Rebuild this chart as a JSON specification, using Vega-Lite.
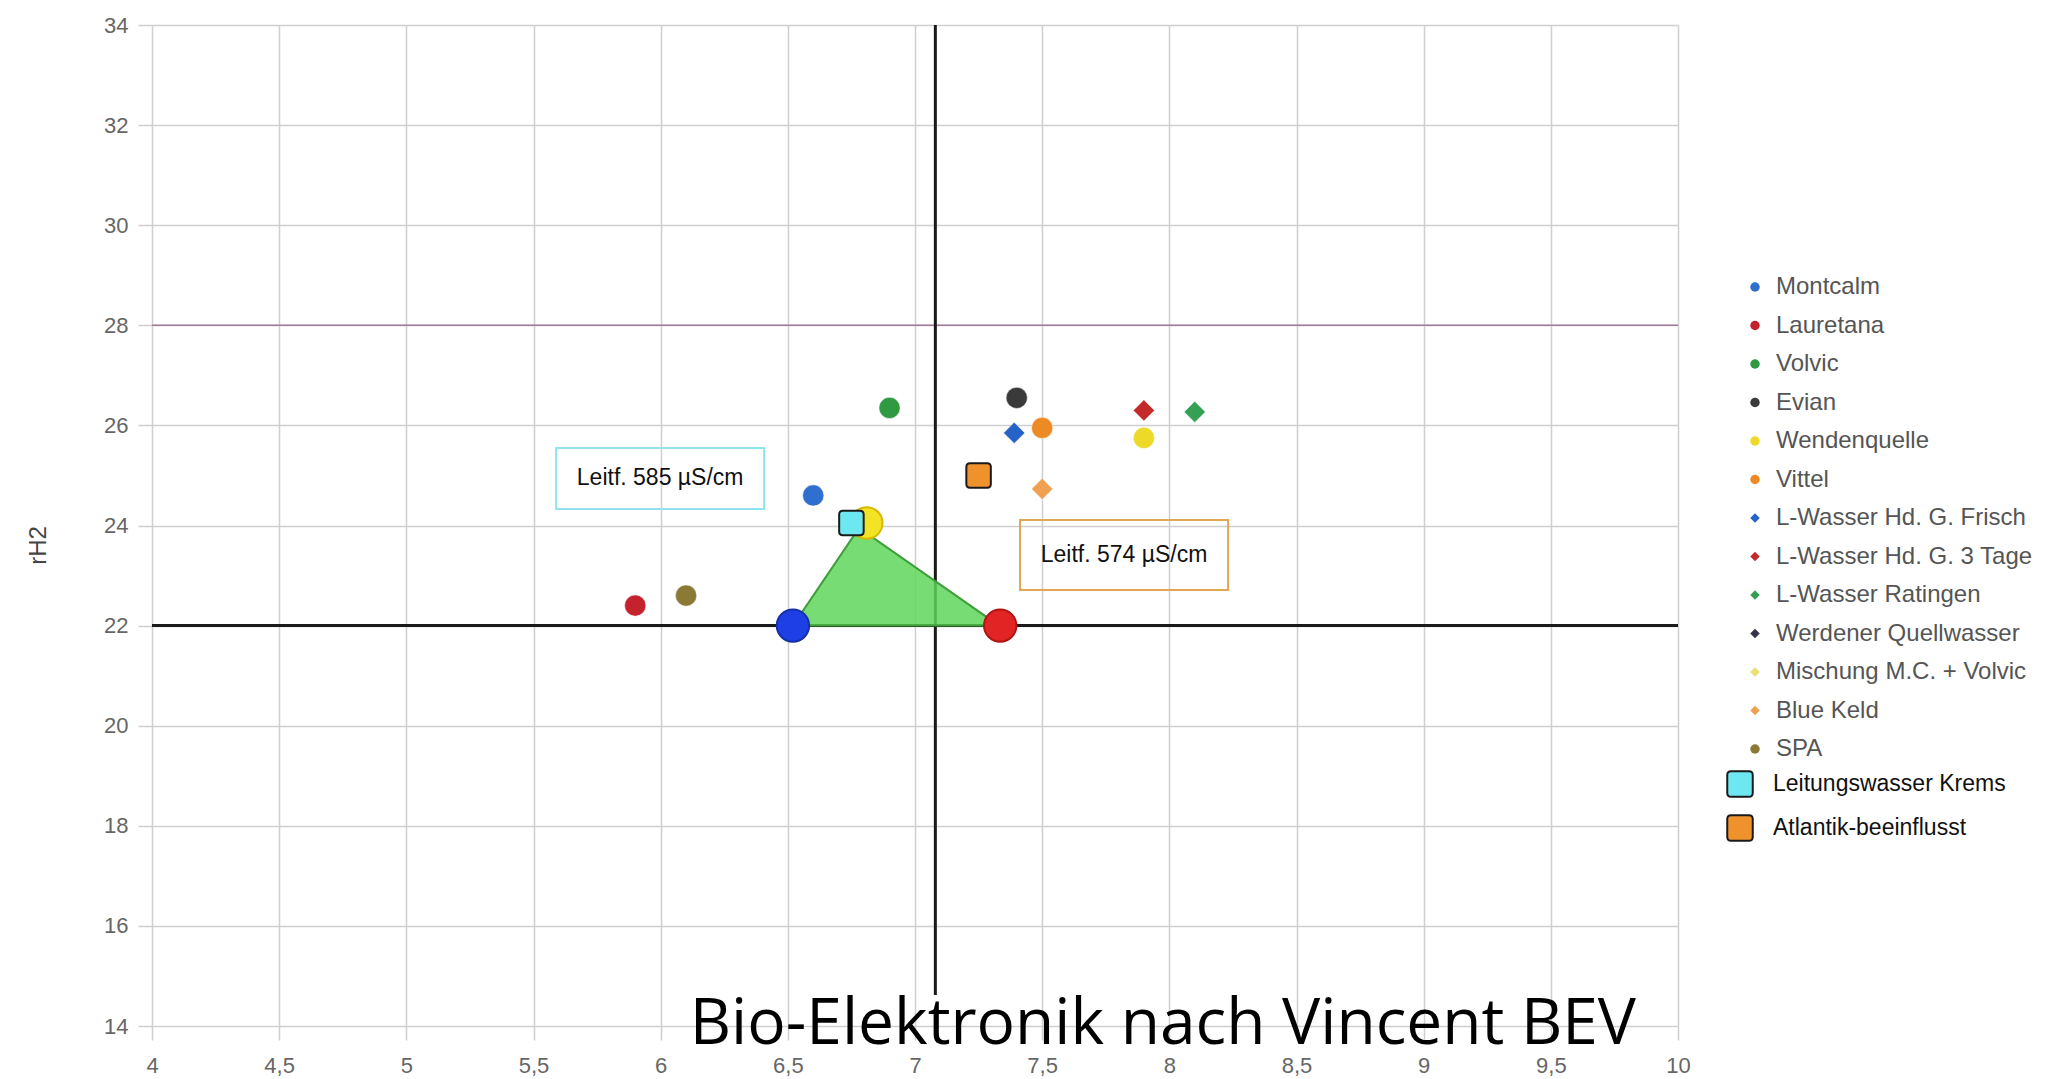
{
  "$schema": "https://vega.github.io/schema/vega-lite/v6.json",
  "autosize": "none",
  "width": 1526,
  "height": 1001,
  "padding": {"left": 152, "top": 25, "right": 369, "bottom": 53},
  "background": "#ffffff",
  "config": {"view": {"stroke": null}, "font": "Liberation Sans"},
  "title": {
    "text": "Bio-Elektronik nach Vincent BEV",
    "orient": "bottom",
    "anchor": "end",
    "frame": "group",
    "font": "Open Sans",
    "fontSize": 64,
    "fontWeight": "normal",
    "color": "#000000",
    "baseline": "alphabetic",
    "offset": 0,
    "dx": -42,
    "dy": -32
  },
  "datasets": {
    "points": [
      {"Wasser": "Montcalm", "pH": 6.6, "rH2": 24.6},
      {"Wasser": "Lauretana", "pH": 5.9, "rH2": 22.4},
      {"Wasser": "Volvic", "pH": 6.9, "rH2": 26.35},
      {"Wasser": "Evian", "pH": 7.4, "rH2": 26.55},
      {"Wasser": "Wendenquelle", "pH": 7.9, "rH2": 25.75},
      {"Wasser": "Vittel", "pH": 7.5, "rH2": 25.95},
      {"Wasser": "L-Wasser Hd. G. Frisch", "pH": 7.39, "rH2": 25.85},
      {"Wasser": "L-Wasser Hd. G. 3 Tage", "pH": 7.9, "rH2": 26.3},
      {"Wasser": "L-Wasser Ratingen", "pH": 8.1, "rH2": 26.27},
      {"Wasser": "Blue Keld", "pH": 7.5, "rH2": 24.73},
      {"Wasser": "SPA", "pH": 6.1, "rH2": 22.6}
    ],
    "squares": [
      {"Gruppe": "Leitungswasser Krems", "pH": 6.75, "rH2": 24.05},
      {"Gruppe": "Atlantik-beeinflusst", "pH": 7.25, "rH2": 25.0}
    ],
    "triangle": [
      {"pH": 6.52, "rH2": 22},
      {"pH": 6.78, "rH2": 23.95},
      {"pH": 7.33, "rH2": 22}
    ]
  },
  "layer": [
    {
      "data": {"values": [{"rH2": 28}]},
      "mark": {"type": "rule", "color": "#a07a95", "strokeWidth": 1.5},
      "encoding": {"y": {"field": "rH2", "type": "quantitative"}}
    },
    {
      "data": {"values": [{"rH2": 22}]},
      "mark": {"type": "rule", "color": "#1a1a1a", "strokeWidth": 3},
      "encoding": {"y": {"field": "rH2", "type": "quantitative"}}
    },
    {
      "data": {"values": [{"pH": 7.08, "von": 14.62, "bis": 34}]},
      "mark": {"type": "rule", "color": "#1a1a1a", "strokeWidth": 3},
      "encoding": {
        "x": {"field": "pH", "type": "quantitative"},
        "y": {"field": "von", "type": "quantitative"},
        "y2": {"field": "bis"}
      }
    },
    {
      "data": {"name": "triangle"},
      "mark": {"type": "area", "color": "#5fd65a", "fillOpacity": 0.85, "stroke": "#3f9f3a", "strokeWidth": 2, "interpolate": "linear"},
      "encoding": {
        "x": {"field": "pH", "type": "quantitative"},
        "y": {"field": "rH2", "type": "quantitative"},
        "y2": {"datum": 22}
      }
    },
    {
      "data": {"name": "points"},
      "mark": {"type": "point", "filled": true, "size": 450, "opacity": 1, "stroke": "#ffffff", "strokeWidth": 0.5},
      "encoding": {
        "x": {
          "field": "pH", "type": "quantitative",
          "scale": {"domain": [4, 10], "nice": false, "zero": false},
          "axis": {
            "values": [4, 4.5, 5, 5.5, 6, 6.5, 7, 7.5, 8, 8.5, 9, 9.5, 10],
            "labelExpr": "replace(format(datum.value, '~g'), '.', ',')",
            "grid": true, "gridColor": "#cfcfcf", "gridWidth": 1.5,
            "domain": false, "tickColor": "#cfcfcf", "tickWidth": 1.5, "tickSize": 14,
            "labelFontSize": 22, "labelColor": "#666666", "labelPadding": 15, "labelFlush": false,
            "title": null
          }
        },
        "y": {
          "field": "rH2", "type": "quantitative",
          "scale": {"domain": [14, 34], "nice": false, "zero": false},
          "axis": {
            "values": [14, 16, 18, 20, 22, 24, 26, 28, 30, 32, 34],
            "grid": true, "gridColor": "#cfcfcf", "gridWidth": 1.5,
            "domain": false, "tickColor": "#cfcfcf", "tickWidth": 1.5, "tickSize": 14,
            "labelFontSize": 22, "labelColor": "#666666", "labelPadding": 10, "labelFlush": false,
            "title": "rH2", "titleAngle": -90, "titleX": -114, "titleY": 520,
            "titleAlign": "center", "titleBaseline": "middle",
            "titleFontSize": 24, "titleFontWeight": "normal", "titleColor": "#444444"
          }
        },
        "color": {
          "field": "Wasser", "type": "nominal",
          "scale": {
            "domain": ["Montcalm", "Lauretana", "Volvic", "Evian", "Wendenquelle", "Vittel", "L-Wasser Hd. G. Frisch", "L-Wasser Hd. G. 3 Tage", "L-Wasser Ratingen", "Werdener Quellwasser", "Mischung M.C. + Volvic", "Blue Keld", "SPA"],
            "range": ["#2f6fcf", "#c4232e", "#2f9a42", "#3a3a3a", "#ecd928", "#ec8a24", "#2563c9", "#c42a2a", "#33a055", "#33334a", "#e8e070", "#f0a052", "#8a7a36"]
          },
          "legend": {
            "title": null, "orient": "none", "legendX": 1591, "legendY": 250,
            "padding": 0, "rowPadding": 14.5, "symbolSize": 90, "symbolStrokeWidth": 0,
            "labelFontSize": 24, "labelColor": "#555555", "labelOffset": 9, "labelLimit": 400
          }
        },
        "shape": {
          "field": "Wasser", "type": "nominal",
          "scale": {
            "domain": ["Montcalm", "Lauretana", "Volvic", "Evian", "Wendenquelle", "Vittel", "L-Wasser Hd. G. Frisch", "L-Wasser Hd. G. 3 Tage", "L-Wasser Ratingen", "Werdener Quellwasser", "Mischung M.C. + Volvic", "Blue Keld", "SPA"],
            "range": ["circle", "circle", "circle", "circle", "circle", "circle", "diamond", "diamond", "diamond", "diamond", "diamond", "diamond", "circle"]
          },
          "legend": null
        }
      }
    },
    {
      "data": {"values": [{"pH": 6.52, "rH2": 22}]},
      "mark": {"type": "point", "filled": true, "size": 1050, "color": "#1f3fe6", "stroke": "#1530a8", "strokeWidth": 2, "opacity": 1},
      "encoding": {"x": {"field": "pH", "type": "quantitative"}, "y": {"field": "rH2", "type": "quantitative"}}
    },
    {
      "data": {"values": [{"pH": 7.335, "rH2": 22}]},
      "mark": {"type": "point", "filled": true, "size": 1050, "color": "#e32424", "stroke": "#b01515", "strokeWidth": 2, "opacity": 1},
      "encoding": {"x": {"field": "pH", "type": "quantitative"}, "y": {"field": "rH2", "type": "quantitative"}}
    },
    {
      "data": {"values": [{"pH": 6.81, "rH2": 24.05}]},
      "mark": {"type": "point", "filled": true, "size": 1000, "color": "#f2e424", "stroke": "#d8b800", "strokeWidth": 2, "opacity": 1},
      "encoding": {"x": {"field": "pH", "type": "quantitative"}, "y": {"field": "rH2", "type": "quantitative"}}
    },
    {
      "data": {"name": "squares"},
      "mark": {"type": "point", "filled": true, "size": 600, "stroke": "#1a1a1a", "strokeWidth": 2, "opacity": 1,
        "shape": "M -0.7 -1 L 0.7 -1 Q 1 -1 1 -0.7 L 1 0.7 Q 1 1 0.7 1 L -0.7 1 Q -1 1 -1 0.7 L -1 -0.7 Q -1 -1 -0.7 -1 Z"},
      "encoding": {
        "x": {"field": "pH", "type": "quantitative"},
        "y": {"field": "rH2", "type": "quantitative"},
        "fill": {
          "field": "Gruppe", "type": "nominal",
          "scale": {"domain": ["Leitungswasser Krems", "Atlantik-beeinflusst"], "range": ["#6ee8f0", "#f0922c"]},
          "legend": {
            "title": null, "orient": "none", "legendX": 1574, "legendY": 745,
            "padding": 0, "rowPadding": 10, "symbolSize": 650,
            "symbolType": "M -0.7 -1 L 0.7 -1 Q 1 -1 1 -0.7 L 1 0.7 Q 1 1 0.7 1 L -0.7 1 Q -1 1 -1 0.7 L -1 -0.7 Q -1 -1 -0.7 -1 Z",
            "symbolStrokeColor": "#1a1a1a", "symbolStrokeWidth": 2,
            "labelFontSize": 23, "labelColor": "#111111", "labelOffset": 19, "labelLimit": 400
          }
        }
      }
    },
    {
      "data": {"values": [{"x1": 5.589, "x2": 6.407, "y1": 25.55, "y2": 24.33}]},
      "mark": {"type": "rect", "fill": null, "stroke": "#8fe3ee", "strokeWidth": 2},
      "encoding": {
        "x": {"field": "x1", "type": "quantitative"}, "x2": {"field": "x2"},
        "y": {"field": "y1", "type": "quantitative"}, "y2": {"field": "y2"}
      }
    },
    {
      "data": {"values": [{"x1": 7.413, "x2": 8.231, "y1": 24.11, "y2": 22.71}]},
      "mark": {"type": "rect", "fill": null, "stroke": "#e2a655", "strokeWidth": 2},
      "encoding": {
        "x": {"field": "x1", "type": "quantitative"}, "x2": {"field": "x2"},
        "y": {"field": "y1", "type": "quantitative"}, "y2": {"field": "y2"}
      }
    },
    {
      "data": {"values": [
        {"pH": 5.998, "rH2": 24.94, "label": "Leitf. 585 µS/cm"},
        {"pH": 7.822, "rH2": 23.41, "label": "Leitf. 574 µS/cm"}
      ]},
      "mark": {"type": "text", "fontSize": 23, "color": "#111111", "align": "center", "baseline": "middle", "font": "Liberation Sans"},
      "encoding": {
        "x": {"field": "pH", "type": "quantitative"},
        "y": {"field": "rH2", "type": "quantitative"},
        "text": {"field": "label"}
      }
    }
  ]
}
